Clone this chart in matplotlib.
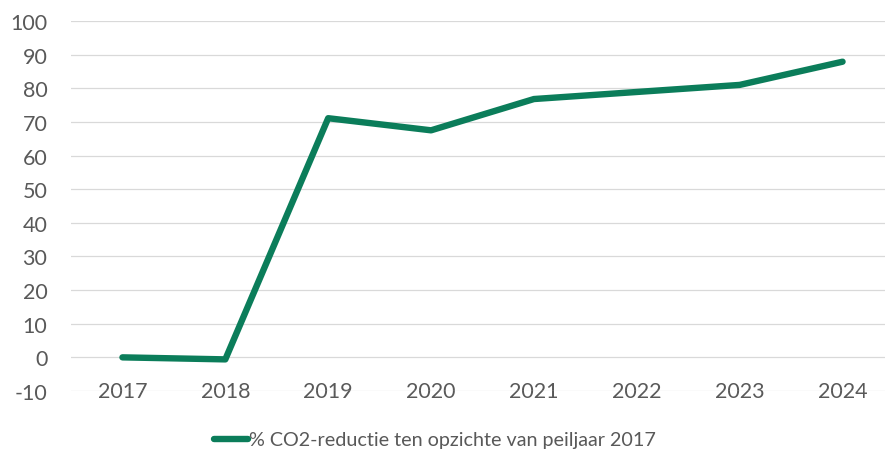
import matplotlib.pyplot as plt

jaren = ["2017", "2018", "2019", "2020", "2021", "2022", "2023", "2024"]
reductie = [0, -0.6, 71.1, 67.5, 76.8, 78.9, 81.0, 87.9]
yticks = list(range(-10, 101, 10))

groen = "#0b7d5a"
grijs = "#595959"

plt.rcParams["font.family"] = ["Lato", "DejaVu Sans"]
plt.rcParams["axes.unicode_minus"] = False

fig = plt.figure(figsize=(8.85, 4.52), dpi=100)
# plot area runs a bit past the right edge of the picture, like the reference
ax = fig.add_axes([71 / 885, 1 - 392 / 452, 823 / 885, 370 / 452])

x = list(range(len(jaren)))
ax.plot(x, reductie, color=groen, lw=4.6, solid_capstyle="round",
        solid_joinstyle="round", label="% CO2-reductie ten opzichte van peiljaar 2017",
        zorder=3)

ax.set_xlim(-0.5, len(jaren) - 0.5)
ax.set_ylim(-10, 100)
ax.set_yticks(yticks)
ax.set_xticks(x)
ax.set_xticklabels(jaren)
ax.grid(axis="y", color="#d9d9d9", lw=0.9)
ax.set_axisbelow(True)
for s in ax.spines.values():
    s.set_visible(False)

ax.tick_params(axis="y", length=0, pad=17, labelsize=15.5, labelcolor=grijs)
ax.tick_params(axis="x", length=0, pad=0, labelsize=15.5, labelcolor=grijs)
for lbl in ax.get_xticklabels():
    lbl.set_va("center")

leg = fig.legend(loc="center", bbox_to_anchor=(435 / 885, 1 - 441 / 452),
                 frameon=False, fontsize=14.2, handlelength=1.75,
                 handletextpad=0.05, borderpad=0)
for t in leg.get_texts():
    t.set_color(grijs)

fig.savefig("out.png", dpi=100)
